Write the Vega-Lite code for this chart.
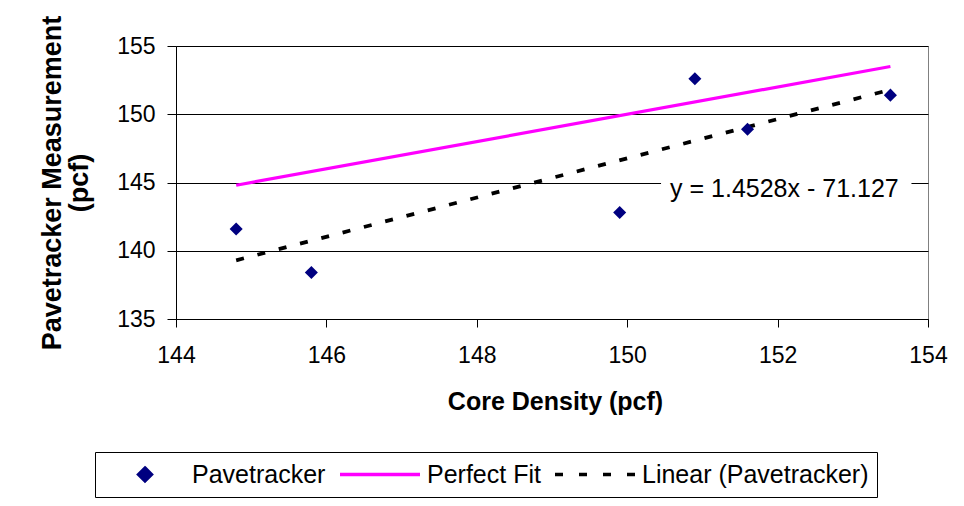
{
  "$schema": "https://vega.github.io/schema/vega-lite/v6.json",
  "width": 752,
  "height": 273,
  "autosize": {"type": "none"},
  "padding": {"left": 176, "top": 46, "right": 36, "bottom": 187},
  "background": "white",
  "config": {
    "font": "Liberation Sans",
    "view": {"stroke": "#808080", "strokeWidth": 1},
    "axis": {
      "labelFont": "Liberation Sans",
      "titleFont": "Liberation Sans",
      "labelColor": "black",
      "titleColor": "black",
      "domainColor": "black",
      "tickColor": "black",
      "labelFontSize": 23,
      "titleFontWeight": "bold"
    }
  },
  "datasets": {
    "points": [
      {"core": 144.8, "pave": 141.6},
      {"core": 145.8, "pave": 138.4},
      {"core": 149.9, "pave": 142.8},
      {"core": 150.9, "pave": 152.6},
      {"core": 151.6, "pave": 148.9},
      {"core": 153.5, "pave": 151.4}
    ],
    "perfect": [
      {"core": 144.8, "pave": 144.8},
      {"core": 153.5, "pave": 153.5}
    ],
    "trend": [
      {"core": 144.8, "pave": 139.3},
      {"core": 153.5, "pave": 151.8}
    ]
  },
  "layer": [
    {
      "data": {"values": [{}]},
      "mark": {"type": "rect", "fill": "white"},
      "encoding": {
        "x": {"datum": 150.45, "type": "quantitative"},
        "x2": {"datum": 153.78},
        "y": {"datum": 144.75, "type": "quantitative"},
        "y2": {"datum": 145.25}
      }
    },
    {
      "data": {"name": "perfect"},
      "mark": {"type": "line", "strokeWidth": 3.2},
      "encoding": {
        "x": {"field": "core", "type": "quantitative"},
        "y": {"field": "pave", "type": "quantitative"},
        "color": {"datum": "Perfect Fit", "type": "nominal"}
      }
    },
    {
      "data": {"name": "trend"},
      "mark": {"type": "line", "strokeWidth": 3.8, "strokeDash": [8, 14], "strokeCap": "butt"},
      "encoding": {
        "x": {"field": "core", "type": "quantitative"},
        "y": {"field": "pave", "type": "quantitative"},
        "color": {"datum": "Linear (Pavetracker)", "type": "nominal"}
      }
    },
    {
      "data": {"name": "points"},
      "mark": {"type": "point", "shape": "diamond", "filled": true, "size": 170, "opacity": 1},
      "encoding": {
        "x": {
          "field": "core",
          "type": "quantitative",
          "scale": {"domain": [144, 154], "nice": false, "zero": false},
          "axis": {
            "values": [144, 146, 148, 150, 152, 154],
            "format": "d",
            "grid": false,
            "tickSize": 8,
            "labelPadding": 17,
            "labelFlush": false,
            "labelOverlap": false,
            "title": "Core Density (pcf)",
            "titleFontSize": 25,
            "titleBaseline": "alphabetic",
            "titleX": 379,
            "titleY": 90
          }
        },
        "y": {
          "field": "pave",
          "type": "quantitative",
          "scale": {"domain": [135, 155], "nice": false, "zero": false},
          "axis": {
            "values": [135, 140, 145, 150, 155],
            "format": "d",
            "grid": true,
            "gridColor": "black",
            "gridWidth": 1,
            "tickSize": 9,
            "labelPadding": 12,
            "title": ["Pavetracker Measurement", "(pcf)"],
            "titleFontSize": 27,
            "titleAngle": -90,
            "titleAlign": "center",
            "titleBaseline": "alphabetic",
            "titleLineHeight": 27,
            "titleX": -116,
            "titleY": 136.5
          }
        },
        "color": {
          "datum": "Pavetracker",
          "type": "nominal",
          "scale": {
            "domain": ["Pavetracker", "Perfect Fit", "Linear (Pavetracker)"],
            "range": ["#000080", "#FF00FF", "#000000"]
          },
          "legend": {
            "title": null,
            "orient": "none",
            "legendX": -81,
            "legendY": 406,
            "direction": "horizontal",
            "symbolSize": 6400,
            "symbolStrokeWidth": 3,
            "clipHeight": 29,
            "labelFont": "Liberation Sans",
            "labelFontSize": 25,
            "labelColor": "black",
            "labelLimit": 400,
            "labelOffset": 5,
            "columnPadding": 12,
            "padding": 8,
            "strokeColor": "black",
            "fillColor": "white",
            "encoding": {
              "symbols": {
                "shape": {"value": {"expr": "datum.value === 'Pavetracker' ? 'M0,-0.16L0.16,0L0,0.16L-0.16,0Z' : datum.value === 'Perfect Fit' ? 'M-1,0H1' : 'M-1,0H-0.8M-0.4,0H-0.2M0.2,0H0.4M0.8,0H1'"}},
                "fill": {"value": {"expr": "datum.value === 'Pavetracker' ? '#000080' : 'transparent'"}},
                "stroke": {"value": {"expr": "datum.value === 'Pavetracker' ? 'transparent' : datum.value === 'Perfect Fit' ? '#FF00FF' : '#000000'"}},
                "strokeWidth": {"value": 3.5},
                "opacity": {"value": 1}
              }
            }
          }
        }
      }
    },
    {
      "data": {"values": [{}]},
      "mark": {"type": "text", "fontSize": 25, "align": "center", "baseline": "alphabetic", "color": "black"},
      "encoding": {
        "x": {"datum": 152.09, "type": "quantitative"},
        "y": {"datum": 143.94, "type": "quantitative"},
        "text": {"value": "y = 1.4528x - 71.127"}
      }
    }
  ]
}
